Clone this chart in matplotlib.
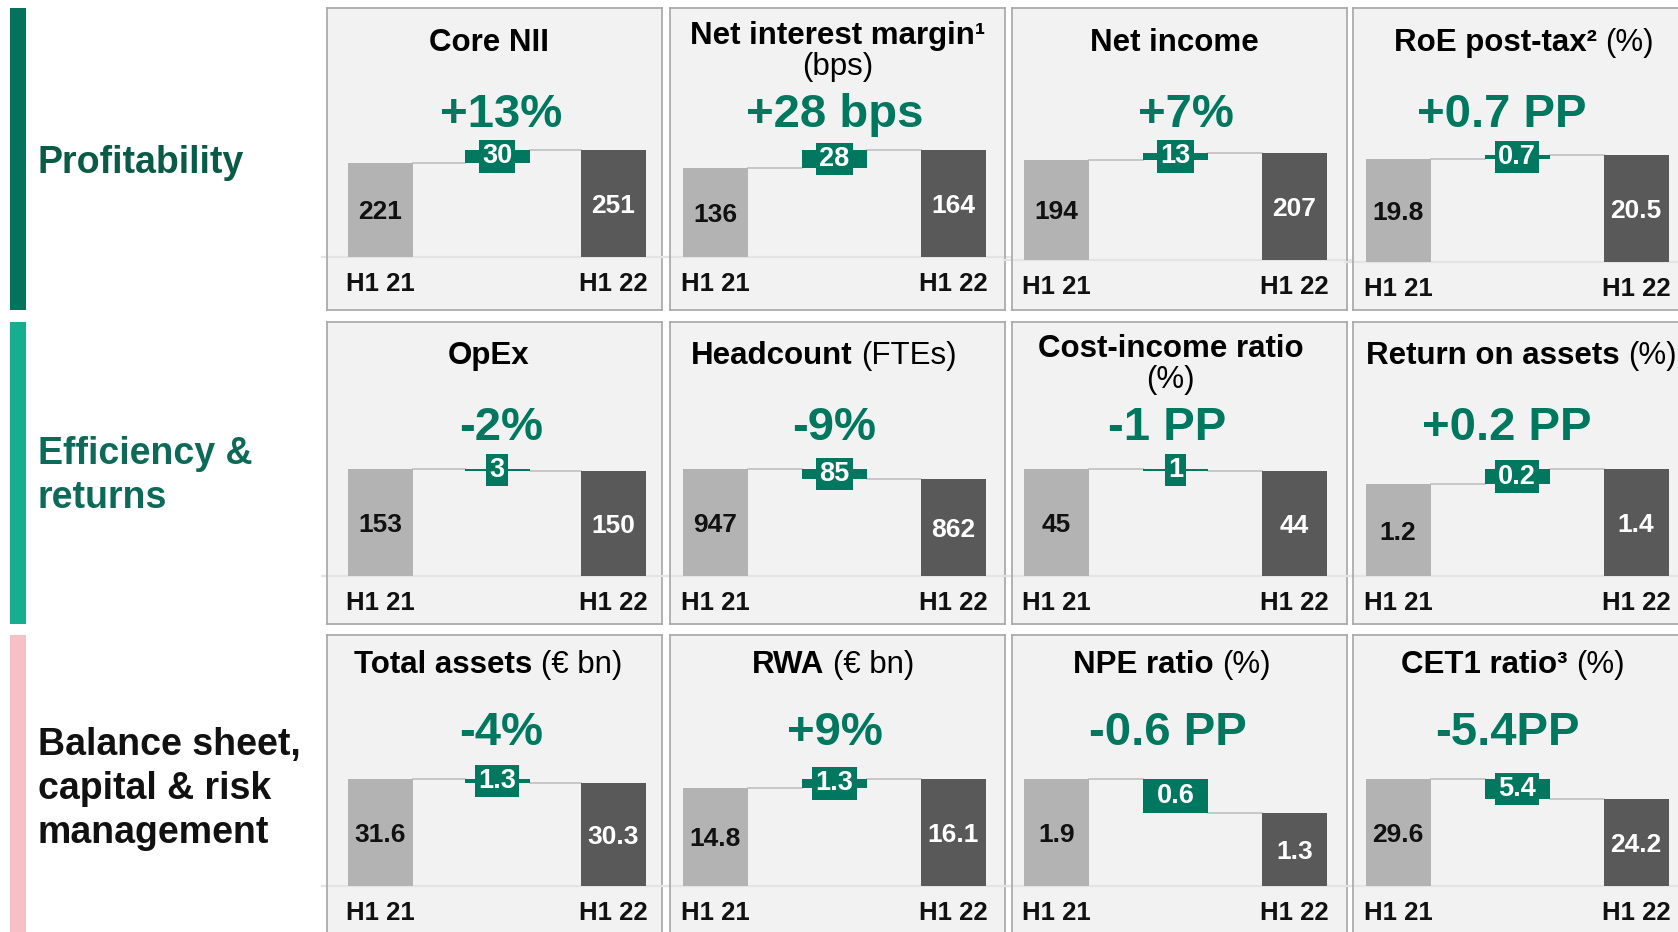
import matplotlib.pyplot as plt
from matplotlib.patches import Rectangle

plt.rcParams['font.family'] = ['Liberation Sans', 'DejaVu Sans']

# ---- data ----
sections = ["Profitability", "Efficiency &\nreturns", "Balance sheet,\ncapital & risk\nmanagement"]
titles = [["Core NII", "Net interest margin\u00b9", "Net income", "RoE post-tax\u00b2"],
          ["OpEx", "Headcount", "Cost-income ratio", "Return on assets"],
          ["Total assets", "RWA", "NPE ratio", "CET1 ratio\u00b3"]]
units = [["", "(bps)", "", "(%)"],
         ["", "(FTEs)", "(%)", "(%)"],
         ["(\u20ac bn)", "(\u20ac bn)", "(%)", "(%)"]]
unit_on_new_line = [[False, True, False, False],
                    [False, False, True, False],
                    [False, False, False, False]]
changes = [["+13%", "+28 bps", "+7%", "+0.7 PP"],
           ["-2%", "-9%", "-1 PP", "+0.2 PP"],
           ["-4%", "+9%", "-0.6 PP", "-5.4PP"]]
h1_21 = [[221, 136, 194, 19.8],
         [153, 947, 45, 1.2],
         [31.6, 14.8, 1.9, 29.6]]
h1_22 = [[251, 164, 207, 20.5],
         [150, 862, 44, 1.4],
         [30.3, 16.1, 1.3, 24.2]]
periods = ["H1 21", "H1 22"]

# ---- layout (pixels) ----
W, H = 1678, 932
row_top = [8, 322, 635]
col_left = [327, 670, 1012, 1353]
PW, PH = 335, 302
title_base = [43, 42, 38]
big_base = [119, 118, 110]
bar_base = [249, 254, 251]
bar_base_dx = [[0, 0, 3, 5], [0, 0, 0, 0], [0, 0, 0, 0]]
bar_a = [53.5, 45.5, 44.5, 45]
bar_s = [116.5, 119, 119, 119]
bar_px = 65
tall_px = 107
title_dx = [[-6, 0, -5.5, 3.5], [-5.5, -13.5, -9, 1], [-6, -4.5, -8, -7.5]]
big_dx = [[4, 0, 10, -15], [4, 0, -8, -10], [4, 0, -8, -10]]
sec_dy = [4, 3, 3]

sec_bar_colors = ['#04725d', '#17ad8f', '#f6c1c6']
sec_text_colors = ['#0a5a48', '#0d6a58', '#111111']
green = '#00775f'
light = '#b3b3b3'
dark = '#595959'
panel_bg = '#f2f2f2'


def px_rect(x, y, w, h):
    return [x / W, 1 - (y + h) / H, w / W, h / H]


def fx(x):
    return x / W


def fy(y):
    return 1 - y / H


def draw_title(fig, renderer, xc, y, bold, unit, newline):
    size = 22.5
    if not unit:
        fig.text(fx(xc), fy(y), bold, ha='center', va='baseline', size=size, weight='bold')
        return
    if newline:
        fig.text(fx(xc), fy(y - 7), bold, ha='center', va='baseline', size=size, weight='bold')
        fig.text(fx(xc), fy(y + 24), unit, ha='center', va='baseline', size=size)
        return
    t1 = fig.text(0, fy(y), bold, ha='left', va='baseline', size=size, weight='bold')
    t2 = fig.text(0, fy(y), unit, ha='left', va='baseline', size=size)
    w1 = t1.get_window_extent(renderer).width
    w2 = t2.get_window_extent(renderer).width
    gap = 0.278 * size * 100 / 72
    x0 = xc - (w1 + gap + w2) / 2
    t1.set_x(fx(x0))
    t2.set_x(fx(x0 + w1 + gap))


def create_kpi_figure():
    fig = plt.figure(figsize=(W / 100, H / 100), dpi=100)
    fig.patch.set_facecolor('white')
    renderer = fig.canvas.get_renderer()

    for r in range(3):
        top = row_top[r]
        bottom = min(top + PH, H + 5)
        fig.add_artist(Rectangle((fx(10), fy(bottom)), 16 / W, (bottom - top) / H,
                                 transform=fig.transFigure, color=sec_bar_colors[r], lw=0))
        fig.text(fx(38), fy(top + PH / 2 + sec_dy[r]), sections[r], ha='left', va='center',
                 size=27, weight='bold', color=sec_text_colors[r], linespacing=1.3)

        for c in range(4):
            left = col_left[c]
            v0, v1 = h1_21[r][c], h1_22[r][c]
            a, s = bar_a[c], bar_s[c]
            ppu = tall_px / max(v0, v1)
            base = bar_base[r] + bar_base_dx[r][c]

            ax = fig.add_axes(px_rect(left, top, PW, PH))
            ax.set_facecolor(panel_bg)
            for sp in ax.spines.values():
                sp.set_color('#a6a6a6')
                sp.set_linewidth(1.2)
            ax.set_xticks([]); ax.set_yticks([])
            ax.set_xlim(-a / s, (PW - a) / s)
            ax.set_ylim(-(PH - base) / ppu, base / ppu)

            # faint separator at the bar baseline, running a little past the frame
            ax.axhline(0, xmin=-0.025 if c else -0.016, xmax=1.02, color='#e4e4e4',
                       lw=1.6, zorder=1, clip_on=False)

            bw = bar_px / s
            ax.bar([0, 2], [v0, v1], width=bw, color=[light, dark], zorder=2)
            ax.bar(1, abs(v1 - v0), bottom=min(v0, v1), width=bw, color=green, zorder=2)
            ax.plot([bw / 2, 1 - bw / 2], [v0, v0], color='#c0c0c0', lw=1.2, zorder=1)
            ax.plot([1 + bw / 2, 2 - bw / 2], [v1, v1], color='#c0c0c0', lw=1.2, zorder=1)

            ax.text(0, v0 / 2, f"{v0:g}", ha='center', va='center_baseline', size=19,
                    weight='bold', color='#111111', zorder=3)
            ax.text(2, v1 / 2, f"{v1:g}", ha='center', va='center_baseline', size=19,
                    weight='bold', color='white', zorder=3)
            delta = round(abs(v1 - v0), 1)
            ax.text(1, (v0 + v1) / 2, f"{delta:g}", ha='center', va='center', size=19.5,
                    weight='bold', color='white', zorder=4,
                    bbox=dict(boxstyle='square,pad=0.12', fc=green, ec='none'))
            for i, lab in enumerate(periods):
                ax.text(i * 2, -27 / ppu, lab, ha='center', va='center', size=18.5,
                        weight='bold', color='#111111')

            xc = left + PW / 2 + title_dx[r][c]
            draw_title(fig, renderer, xc, top + title_base[r], titles[r][c], units[r][c],
                       unit_on_new_line[r][c])
            fig.text(fx(left + a + s + big_dx[r][c]), fy(top + big_base[r]), changes[r][c],
                     ha='center', va='baseline', size=34, weight='bold', color=green)

    plt.savefig("out.png", dpi=100)


if __name__ == "__main__":
    create_kpi_figure()
